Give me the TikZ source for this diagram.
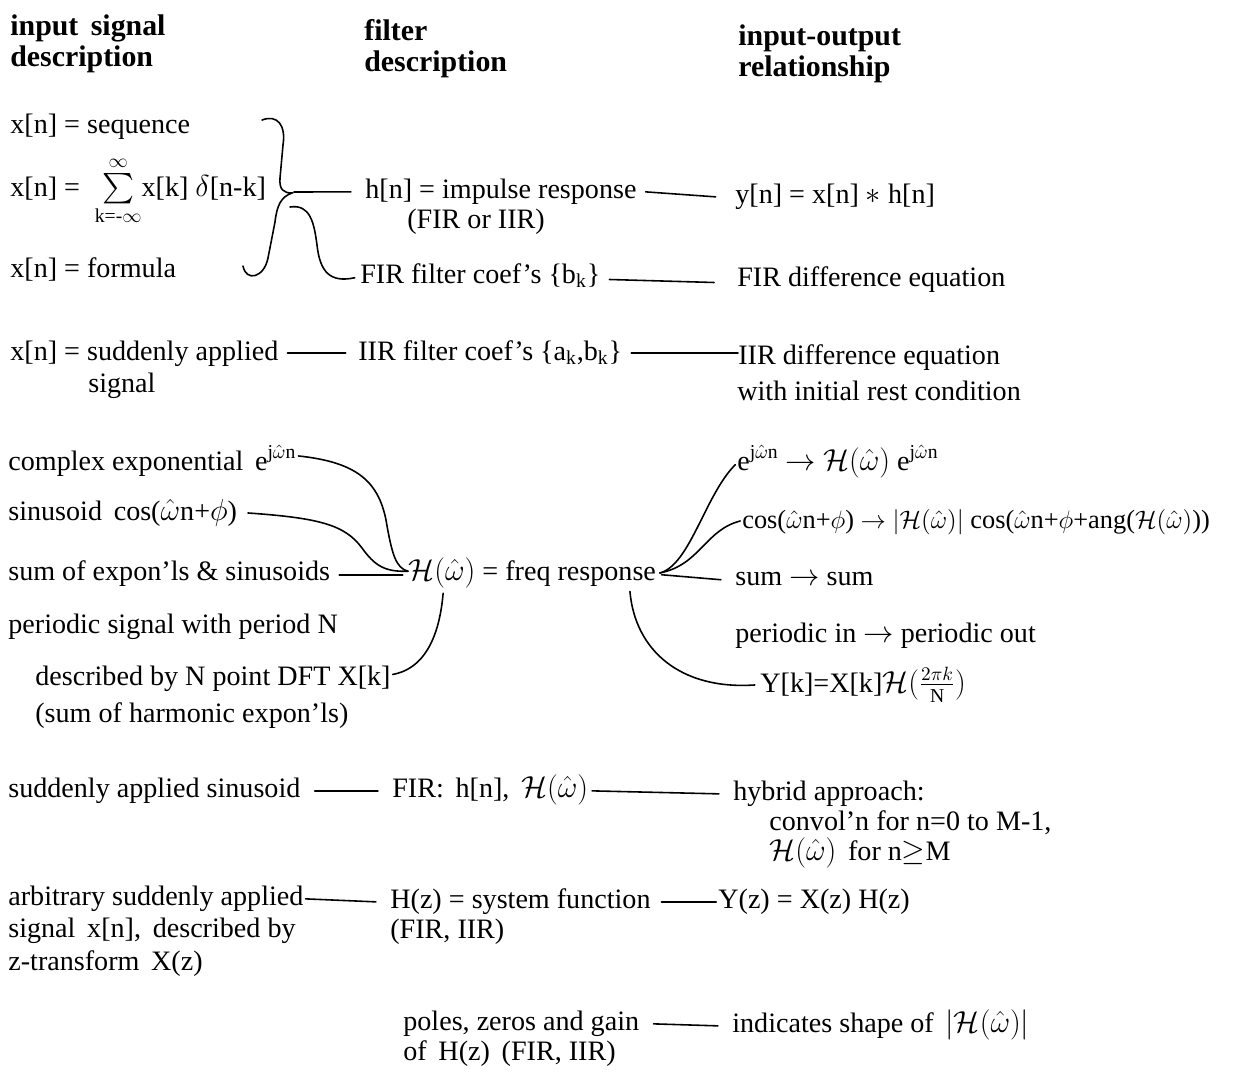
\documentclass[tikz,border=0pt]{standalone}
\usepackage{amsmath}
\usepackage{fontspec}
\setmainfont{Liberation Serif}
\usetikzlibrary{positioning,calc}

\tikzset{
  lbl/.style={anchor=base west, inner sep=0pt},
  hdr/.style={lbl, font=\fontsize{17}{20}\selectfont\bfseries},
  link/.style={line width=0.9pt, line cap=round}
}
\newcommand{\omh}{$\hat{\omega}$}
\newcommand{\Hom}{$\mathcal{H}(\hat{\omega})$}

\begin{document}
\begin{tikzpicture}[x=0.02cm, y=-0.02cm, font=\fontsize{16}{19}\selectfont]
\useasboundingbox (0,0) rectangle (1251,1073);

% column headings
\node[hdr] (inhead) at (10,35) {input\, signal};
\node[hdr] (inhead2) at (10,66) {description};
\node[hdr] (filhead) at (364,40) {filter};
\node[hdr] (filhead2) at (364,71) {description};
\node[hdr] (iohead) at (738,45) {input-output};
\node[hdr] (iohead2) at (738,76) {relationship};

% sequences, impulse response, FIR
\node[lbl] (xseq) at (10,133) {x[n] = sequence};
\node[lbl] (xsum) at (10,196) {x[n] = \;$\textstyle\sum\limits_{\text{k=-}\infty}^{\infty}$x[k] $\delta$[n-k]};
\node[lbl] (xform) at (10,277) {x[n] = formula};
\node[lbl] (hn) at (365,198) {h[n] = impulse response};
\node[lbl] (firor) at (407,228) {(FIR or IIR)};
\node[lbl] (yn) at (735,203) {y[n] = x[n] $\ast$ h[n]};
\node[lbl] (fircoef) at (360,283) {FIR filter coef's \{b\textsubscript{k}\}};
\node[lbl] (firdiff) at (737,286) {FIR difference equation};

\draw[link] (262,120) .. controls (278,114) and (286,126) .. (283,145)
  -- (280,178) .. controls (279,190) and (284,193) .. (292,193)
  .. controls (281,197) and (277,205) .. (275,222)
  -- (268,258) .. controls (264,278) and (246,282) .. (243,266);
\coordinate (btip) at (294,192);
\draw[link] (btip) -- ([xshift=-8pt,yshift=3.5pt]hn.base west);
\draw[link] (290,207) .. controls (310,204) and (314,222) .. (317,245)
  .. controls (320,272) and (330,283) .. ([xshift=-3pt,yshift=3pt]fircoef.base west);
\draw[link] ([xshift=5pt,yshift=3.5pt]hn.base east) -- ([xshift=-11pt,yshift=3.5pt]yn.base west);
\draw[link] ([xshift=5pt,yshift=2pt]fircoef.base east) -- ([xshift=-13pt,yshift=2pt]firdiff.base west);

% IIR
\node[lbl] (xsud) at (10,360) {x[n] = suddenly applied};
\node[lbl] (xsud2) at (88,392) {signal};
\node[lbl] (iircoef) at (358,360) {IIR filter coef's \{a\textsubscript{k},b\textsubscript{k}\}};
\node[lbl] (iirdiff) at (738,364) {IIR difference equation};
\node[lbl] (iirdiff2) at (737,400) {with initial rest condition};
\draw[link] ([xshift=5pt,yshift=4pt]xsud.base east) -- ([xshift=-7pt,yshift=4pt]iircoef.base west);
\draw[link] ([xshift=5pt,yshift=4pt]iircoef.base east) -- ([yshift=4pt]iircoef.base east -| iirdiff.west);

% frequency response
\node[lbl] (cexp) at (8,470) {complex exponential\, e\textsuperscript{j\omh n}};
\node[lbl] (sinus) at (8,520) {sinusoid\, cos(\omh n+$\phi$)};
\node[lbl] (sumexp) at (8,580) {sum of expon'ls \& sinusoids};
\node[lbl] (period) at (8,633) {periodic signal with period N};
\node[lbl] (dft) at (35,685) {described by N point DFT X[k]};
\node[lbl] (harm) at (35,722) {(sum of harmonic expon'ls)};
\node[lbl] (freq) at (408,580) {\Hom{} = freq response};
\node[lbl] (ejw) at (737,470) {e\textsuperscript{j\omh n} $\to$ \Hom{} e\textsuperscript{j\omh n}};
\node[lbl, font=\fontsize{15}{18}\selectfont] (cosw) at (742,528) {cos(\omh n+$\phi$) $\to$ $|$\Hom$|$ cos(\omh n+$\phi$+ang(\Hom))};
\node[lbl] (sumsum) at (735,585) {sum $\to$ sum};
\node[lbl] (perio) at (735,642) {periodic in $\to$ periodic out};
\node[lbl] (ydft) at (760,692) {Y[k]=X[k]$\mathcal{H}(\frac{2\pi k}{\mathrm{N}})$};

\draw[link] ([xshift=1pt,yshift=8pt]cexp.base east) .. controls (355,462) and (378,480) .. (386,520)
  .. controls (392,555) and (396,568) .. ([yshift=5pt]freq.base west);
\draw[link] ([xshift=6pt,yshift=4pt]sinus.base east) .. controls (320,518) and (345,525) .. (362,548)
  .. controls (375,566) and (385,572) .. ([yshift=5pt]freq.base west);
\draw[link] ([xshift=5pt,yshift=3pt]sumexp.base east) -- ([xshift=-3pt,yshift=3pt]freq.base west);
\draw[link] ([xshift=1pt,yshift=6pt]dft.base east) .. controls (428,668) and (440,630) .. ([xshift=20pt,yshift=-3pt]freq.south west);
\draw[link] ([xshift=2pt,yshift=4pt]freq.base east) .. controls (690,565) and (705,495) .. ([xshift=-1pt,yshift=3pt]ejw.base west);
\draw[link] ([xshift=2pt,yshift=4pt]freq.base east) .. controls (700,565) and (705,530) .. ([xshift=-1pt,yshift=4pt]cosw.base west);
\draw[link] ([xshift=3pt,yshift=3pt]freq.base east) -- ([xshift=-8pt,yshift=3pt]sumsum.base west);
\draw[link] ([xshift=-15pt,yshift=-2pt]freq.south east) .. controls (635,650) and (680,690) .. ([xshift=-3pt,yshift=4pt]ydft.base west);

% suddenly applied inputs
\node[lbl] (sudsin) at (8,797) {suddenly applied sinusoid};
\node[lbl] (firh) at (392,797) {FIR:\, h[n],\, \Hom};
\node[lbl] (hybrid) at (733,800) {hybrid approach:};
\node[lbl] (hybrid2) at (769,830) {convol'n for n=0 to M-1,};
\node[lbl] (hybrid3) at (769,860) {\Hom\, for n$\geq$M};
\draw[link] ([xshift=8pt,yshift=3.5pt]sudsin.base east) -- ([xshift=-8pt,yshift=3.5pt]firh.base west);
\draw[link] ([xshift=2pt,yshift=3.5pt]firh.base east) -- ([xshift=-8pt,yshift=3.5pt]hybrid.base west);

% z-transform
\node[lbl] (arb) at (8,905) {arbitrary suddenly applied};
\node[lbl] (arb2) at (8,937) {signal\, x[n],\, described by};
\node[lbl] (arb3) at (8,970) {z-transform\, X(z)};
\node[lbl] (hz) at (390,908) {H(z) = system function};
\node[lbl] (hz2) at (390,938) {(FIR, IIR)};
\node[lbl] (yz) at (718,908) {Y(z) = X(z) H(z)};
\node[lbl] (pz) at (403,1030) {poles, zeros and gain};
\node[lbl] (pz2) at (403,1060) {of\, H(z)\, (FIR, IIR)};
\node[lbl] (shape) at (732,1032) {indicates shape of\, $|$\Hom$|$};
\draw[link] ([xshift=1pt,yshift=3.5pt]arb.base east) -- ([xshift=-8pt,yshift=3.5pt]hz.base west);
\draw[link] ([xshift=6pt,yshift=3.5pt]hz.base east) -- ([xshift=-1pt,yshift=3.5pt]yz.base west);
\draw[link] ([xshift=8pt,yshift=3.5pt]pz.base east) -- ([xshift=-8pt,yshift=3.5pt]shape.base west);

\end{tikzpicture}
\end{document}
